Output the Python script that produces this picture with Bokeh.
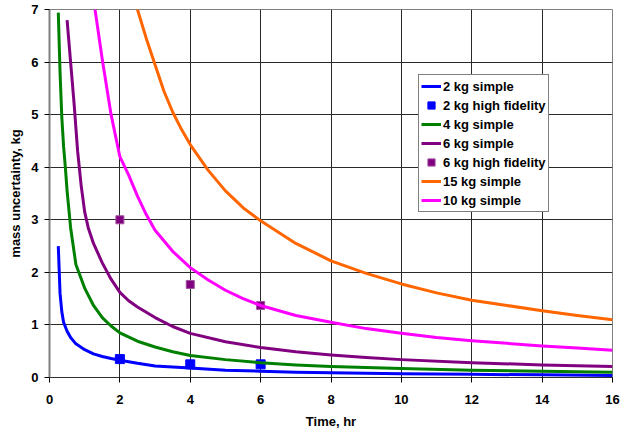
from bokeh.plotting import figure
from bokeh.models import Range1d, FixedTicker, Legend, LegendItem
from bokeh.embed import file_html
from bokeh.resources import INLINE

# ---- data ----
x_ticks = [0, 2, 4, 6, 8, 10, 12, 14, 16]
y_ticks = [0, 1, 2, 3, 4, 5, 6, 7]

t_2kg = [0.25, 0.3, 0.35, 0.4, 0.5, 0.6, 0.75, 1, 1.25, 1.5, 1.75, 2, 2.5, 3, 3.5,
         4, 5, 6, 7, 8, 10, 12, 14, 16]
m_2kg = [2.5, 1.6, 1.25, 1.05, 0.88, 0.76, 0.64, 0.53, 0.45, 0.40, 0.36, 0.33, 0.27,
         0.22, 0.20, 0.18, 0.14, 0.12, 0.10, 0.09, 0.07, 0.06, 0.05, 0.04]

t_2kg_hf = [2, 4, 6]
m_2kg_hf = [0.35, 0.25, 0.25]

t_4kg = [0.25, 0.3, 0.35, 0.4, 0.45, 0.5, 0.6, 0.75, 1, 1.25, 1.5, 1.75, 2, 2.5, 3,
         3.5, 4, 5, 6, 7, 8, 9, 10, 12, 14, 16]
m_4kg = [6.94, 5.8, 4.95, 4.4, 4.0, 3.55, 2.85, 2.15, 1.7, 1.37, 1.14, 0.98, 0.85,
         0.69, 0.58, 0.49, 0.42, 0.34, 0.28, 0.24, 0.21, 0.19, 0.17, 0.14, 0.12, 0.10]

t_6kg = [0.5, 0.55, 0.6, 0.7, 0.8, 0.9, 1, 1.1, 1.25, 1.5, 1.75, 2, 2.25, 2.5, 3, 3.5,
         4, 5, 6, 7, 8, 9, 10, 12, 14, 16]
m_6kg = [6.8, 6.4, 6.0, 5.2, 4.3, 3.65, 3.15, 2.85, 2.55, 2.18, 1.87, 1.62, 1.46, 1.34,
         1.14, 0.97, 0.84, 0.68, 0.57, 0.49, 0.43, 0.38, 0.34, 0.28, 0.24, 0.21]

t_6kg_hf = [2, 4, 6]
m_6kg_hf = [3.0, 1.77, 1.37]

t_15kg = [2.4, 2.5, 2.75, 3, 3.25, 3.5, 3.75, 4, 4.5, 5, 5.5, 6, 7, 8, 9, 10, 11, 12,
          13, 14, 15, 16]
m_15kg = [7.25, 7.0, 6.45, 5.95, 5.45, 5.05, 4.72, 4.43, 3.95, 3.55, 3.23, 2.98, 2.55,
          2.22, 1.98, 1.78, 1.61, 1.47, 1.37, 1.27, 1.18, 1.10]

t_10kg = [1.25, 1.5, 1.75, 2, 2.25, 2.5, 2.75, 3, 3.5, 4, 4.5, 5, 5.5, 6, 7, 8, 9, 10,
          11, 12, 13, 14, 15, 16]
m_10kg = [7.2, 6.05, 5.0, 4.2, 3.85, 3.45, 3.1, 2.8, 2.4, 2.09, 1.86, 1.66, 1.5, 1.37,
          1.18, 1.05, 0.93, 0.84, 0.76, 0.70, 0.65, 0.60, 0.56, 0.52]

FONT = "Liberation Sans"

p = figure(width=627, height=433, output_backend="svg", toolbar_location=None,
           x_range=Range1d(0, 16), y_range=Range1d(0, 7),
           min_border_left=49, min_border_right=15, min_border_top=9,
           min_border_bottom=56)
p.background_fill_color = "white"
p.border_fill_color = "white"
p.outline_line_color = "#808080"
p.outline_line_width = 1

for ax in (p.xaxis[0], p.yaxis[0]):
    ax.major_label_text_font = FONT
    ax.major_label_text_font_style = "bold"
    ax.major_label_text_font_size = "13px"
    ax.major_label_text_color = "black"
    ax.axis_label_text_font = FONT
    ax.axis_label_text_font_style = "bold"
    ax.axis_label_text_font_size = "13px"
    ax.axis_label_text_color = "black"
    ax.major_tick_in = 0
    ax.major_tick_out = 5
    ax.major_tick_line_color = "black"
    ax.minor_tick_line_color = None

p.xaxis.ticker = FixedTicker(ticks=x_ticks)
p.yaxis.ticker = FixedTicker(ticks=y_ticks)
p.xaxis.axis_label = "Time, hr"
p.yaxis.axis_label = "mass uncertainty, kg"
p.xaxis.axis_line_color = "#303030"
p.xaxis.axis_line_width = 1
p.yaxis.axis_line_color = "#808080"
p.yaxis.axis_line_width = 2
p.xaxis.major_label_standoff = 12
p.yaxis.major_label_standoff = 6
p.xaxis.axis_label_standoff = 7
p.yaxis.axis_label_standoff = 5

p.xgrid.ticker = FixedTicker(ticks=x_ticks)
p.ygrid.ticker = FixedTicker(ticks=y_ticks)
p.xgrid.grid_line_color = "#2a2a2a"
p.ygrid.grid_line_color = "#2a2a2a"
p.xgrid.grid_line_width = 1
p.ygrid.grid_line_width = 1

LW = 3
r_2 = p.line(t_2kg, m_2kg, line_color="#0000FF", line_width=LW, line_join="round")
r_2hf = p.scatter(t_2kg_hf, m_2kg_hf, marker="square", size=9,
                  fill_color="#0000FF", line_color="#0000FF", line_width=1)
r_4 = p.line(t_4kg, m_4kg, line_color="#008000", line_width=LW, line_join="round")
r_6 = p.line(t_6kg, m_6kg, line_color="#800080", line_width=LW, line_join="round")
r_6hf = p.scatter(t_6kg_hf, m_6kg_hf, marker="square", size=8,
                  fill_color="#800080", line_color="#A050A0", line_width=1)
r_15 = p.line(t_15kg, m_15kg, line_color="#FF6600", line_width=LW, line_join="round")
r_10 = p.line(t_10kg, m_10kg, line_color="#FF00FF", line_width=LW, line_join="round")

legend = Legend(items=[
    LegendItem(label="2 kg simple", renderers=[r_2]),
    LegendItem(label="2 kg high fidelity", renderers=[r_2hf]),
    LegendItem(label="4 kg simple", renderers=[r_4]),
    LegendItem(label="6 kg simple", renderers=[r_6]),
    LegendItem(label="6 kg high fidelity", renderers=[r_6hf]),
    LegendItem(label="15 kg simple", renderers=[r_15]),
    LegendItem(label="10 kg simple", renderers=[r_10]),
], location=(369, 165))
legend.label_text_font = FONT
legend.label_text_font_style = "bold"
legend.label_text_font_size = "13px"
legend.label_text_color = "black"
legend.label_height = 18
legend.glyph_height = 18
legend.glyph_width = 20
legend.spacing = 1
legend.padding = 2
legend.label_standoff = 2
legend.border_line_color = "black"
legend.border_line_width = 1
legend.background_fill_color = "white"
legend.background_fill_alpha = 1
p.add_layout(legend)

open("out.html", "w").write(file_html(p, INLINE))
